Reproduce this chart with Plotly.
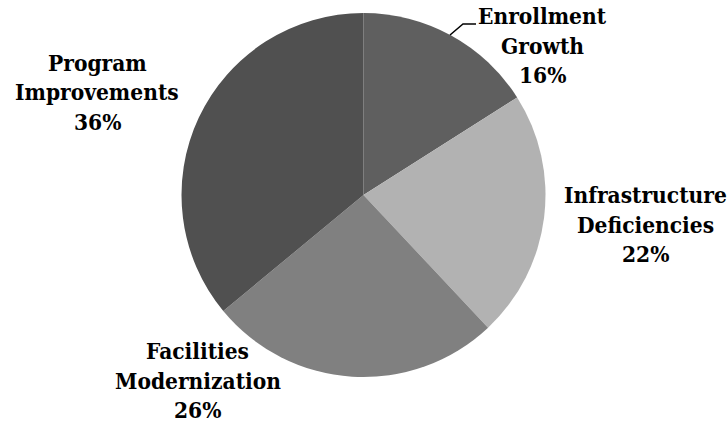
import plotly.graph_objects as go

W, H = 728, 428

categories = ["Enrollment Growth", "Infrastructure Deficiencies",
              "Facilities Modernization", "Program Improvements"]
values = [16, 22, 26, 36]
label_lines = [["Enrollment", "Growth"], ["Infrastructure", "Deficiencies"],
               ["Facilities", "Modernization"], ["Program", "Improvements"]]
colors = ["#5f5f5f", "#b2b2b2", "#808080", "#505050"]

# label block placement (pixel centers of first line, line step)
label_pos = [(542, 16), (645, 195), (198, 351), (97, 63)]
line_step = 29.5

cx, cy, r = 363.5, 195, 182

fig = go.Figure(go.Pie(
    labels=categories, values=values, sort=False, direction="clockwise",
    rotation=0, textinfo="none", hoverinfo="label+percent",
    marker=dict(colors=colors, line=dict(width=0)),
    domain=dict(x=[(cx - r) / W, (cx + r) / W],
                y=[(H - cy - r) / H, (H - cy + r) / H]),
    showlegend=False,
))

total = sum(values)
annotations = []
for lines, v, (x0, y0) in zip(label_lines, values, label_pos):
    texts = lines + [f"{round(100 * v / total)}%"]
    for i, t in enumerate(texts):
        annotations.append(dict(
            text=t, x=x0 / W, y=1 - (y0 + i * line_step) / H,
            xref="paper", yref="paper", xanchor="center", yanchor="middle",
            showarrow=False,
            font=dict(family="DejaVu Serif Condensed, DejaVu Serif, serif",
                      size=22.5, color="black", weight="bold"),
        ))

# leader line for Enrollment Growth
pts = [(450, 35), (463, 24), (476, 24)]
path = "M " + " L ".join(f"{x / W},{1 - y / H}" for x, y in pts)
fig.add_shape(type="path", path=path, xref="paper", yref="paper",
              line=dict(color="black", width=1.5))

fig.update_layout(
    width=W, height=H, margin=dict(l=0, r=0, t=0, b=0),
    paper_bgcolor="white", plot_bgcolor="white",
    annotations=annotations,
)

fig.write_html("out.html")
